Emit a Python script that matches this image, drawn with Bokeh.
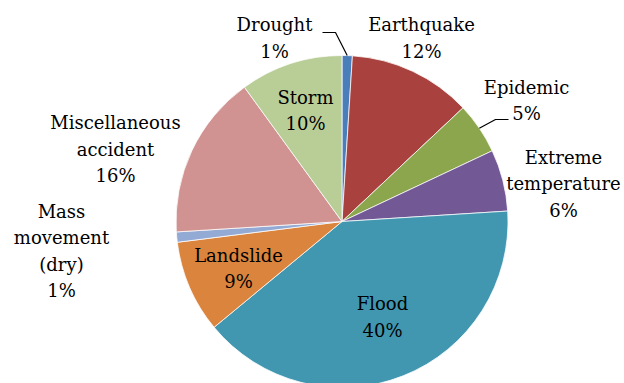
import math
from bokeh.plotting import figure
from bokeh.models import Range1d
from bokeh.embed import file_html
from bokeh.resources import INLINE
from bokeh.core.properties import value

# ---- data ----
categories = ["Drought", "Earthquake", "Epidemic", "Extreme temperature", "Flood",
              "Landslide", "Mass movement (dry)", "Miscellaneous accident", "Storm"]
shares = [1, 12, 5, 6, 40, 9, 1, 16, 10]
label_names = [["Drought"], ["Earthquake"], ["Epidemic"], ["Extreme", "temperature"], ["Flood"],
               ["Landslide"], ["Mass", "movement", "(dry)"], ["Miscellaneous", "accident"], ["Storm"]]
colors = ["#4A7EBB", "#A9423F", "#8BA64C", "#735896", "#4197B0",
          "#DB843D", "#93AAD4", "#D09392", "#B9CE97"]

# ---- layout ----
W, H = 624, 383
CX, CY, R = 341.5, 221.0, 166.0       # pixel coords, y down
LINE = 26.5
FONT = "DejaVu Serif"
FSIZE = "18px"
label_pos = [(274, 37.5), (421, 37.5), (526, 100), (563, 183), (382, 316.5),
             (238, 268), (61, 250.5), (115, 148.5), (305, 110)]
leaders = {0: [(322, 32), (335, 32)], 2: [(508, 119), (495, 119)]}

p = figure(width=W, height=H, x_range=Range1d(0, W), y_range=Range1d(0, H),
           output_backend="svg", toolbar_location=None,
           x_axis_location=None, y_axis_location=None, min_border=0)
p.grid.visible = False
p.outline_line_color = None
p.background_fill_color = "white"
p.border_fill_color = "white"

def fy(y):
    return H - y

total = float(sum(shares))
cum = 0.0
for i, s in enumerate(shares):
    a0 = math.pi / 2 - 2 * math.pi * cum / total
    a1 = math.pi / 2 - 2 * math.pi * (cum + s) / total
    p.wedge(x=CX, y=fy(CY), radius=R, radius_units="screen",
            start_angle=a0, end_angle=a1, direction="clock",
            fill_color=colors[i], line_color="white", line_width=0.75)
    mid = (a0 + a1) / 2
    if i in leaders:
        ex = CX + R * math.cos(mid)
        ey = CY - R * math.sin(mid)
        pts = leaders[i] + [(ex, ey)]
        p.line(x=[q[0] for q in pts], y=[fy(q[1]) for q in pts],
               line_color="black", line_width=1.2)
    cum += s

for i, name in enumerate(label_names):
    lines = name + [f"{shares[i]}%"]
    x0, yc = label_pos[i]
    n = len(lines)
    ys = [fy(yc + (k - (n - 1) / 2) * LINE) for k in range(n)]
    p.text(x=[x0] * n, y=ys, text=lines, text_align="center", text_baseline="middle",
           text_font=value(FONT), text_font_size=FSIZE, text_color="black")

open("out.html", "w").write(file_html(p, INLINE))
